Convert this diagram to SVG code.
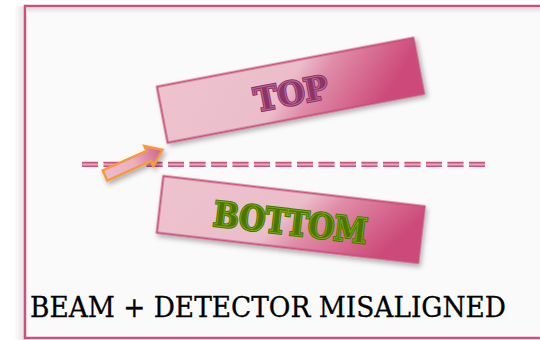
<svg xmlns="http://www.w3.org/2000/svg" width="540" height="340" viewBox="0 0 540 340">
  <style>
    .frame { fill: #fafafa; stroke: #c9527e; stroke-width: 2.5; }
    .det { stroke: #c8517b; stroke-width: 2; }
    .lbl { font-family: "DejaVu Serif", "Liberation Serif", serif; font-weight: bold; text-anchor: middle; }
    .beam { fill: none; stroke-dasharray: 16 5.5; }
    .caption { font-family: "DejaVu Serif", "Liberation Serif", serif; font-size: 27.5px; fill: #000; stroke: #000; stroke-width: 0.3; }
  </style>
  <defs>
    <linearGradient id="detGrad" x1="0" y1="0" x2="1" y2="0.2">
      <stop offset="0" stop-color="#edc3cf"/>
      <stop offset="0.55" stop-color="#ebbdcb"/>
      <stop offset="0.68" stop-color="#e08ca8"/>
      <stop offset="1" stop-color="#cd4a79"/>
    </linearGradient>
    <linearGradient id="arrowGrad" x1="0" y1="0" x2="1" y2="0">
      <stop offset="0" stop-color="#ecbccb"/>
      <stop offset="0.5" stop-color="#e9b0c3"/>
      <stop offset="1" stop-color="#d0608a"/>
    </linearGradient>
    <linearGradient id="leftShade" x1="0" y1="0" x2="1" y2="0">
      <stop offset="0" stop-color="#ffffff"/>
      <stop offset="1" stop-color="#e2e2e2"/>
    </linearGradient>
    <linearGradient id="topShade" x1="0" y1="0" x2="0" y2="1">
      <stop offset="0" stop-color="#dcdcdc"/>
      <stop offset="1" stop-color="#fafafa"/>
    </linearGradient>
    <filter id="shadow" x="-10%" y="-30%" width="120%" height="160%">
      <feDropShadow dx="2" dy="3" stdDeviation="2.5" flood-color="#000" flood-opacity="0.3"/>
    </filter>
  </defs>

  <rect x="0" y="0" width="540" height="340" fill="#ffffff"/>
  <rect x="14" y="6" width="11" height="334" fill="url(#leftShade)"/>
  <g id="frame">
    <rect class="frame" x="25" y="6" width="530" height="332"/>
    <rect x="26.5" y="7.5" width="520" height="6" fill="url(#topShade)"/>
  </g>

  <g id="connectors">
    <g id="beam-axis">
      <line class="beam" x1="82" y1="164.4" x2="486" y2="164.4" stroke="#e8a6bd" stroke-width="5"/>
      <line class="beam" x1="82" y1="162.6" x2="486" y2="162.6" stroke="#c9527e" stroke-width="1.6"/>
      <line class="beam" x1="82" y1="166.2" x2="486" y2="166.2" stroke="#c9527e" stroke-width="1.6"/>
    </g>
    <g id="beam-arrow" filter="url(#shadow)">
      <polygon transform="translate(105,175.5) rotate(-24)" points="0,-5.5 48,-5.5 48,-11 63,0 48,11 48,5.5 0,5.5" fill="url(#arrowGrad)" stroke="#f79a3e" stroke-width="2.5" stroke-linejoin="miter"/>
    </g>
  </g>

  <g id="top-detector" transform="translate(290.5,90.25) rotate(-10.8)">
    <rect class="det" x="-130.5" y="-28.5" width="261" height="57" fill="url(#detGrad)" filter="url(#shadow)"/>
    <text class="lbl" x="0" y="14.5" font-size="32" textLength="74" lengthAdjust="spacingAndGlyphs" fill="#8a3467" stroke="#8a3467" stroke-width="3">TOP</text>
    <text class="lbl" x="0" y="14.5" font-size="32" textLength="74" lengthAdjust="spacingAndGlyphs" fill="none" stroke="#c06a9a" stroke-width="0.9">TOP</text>
  </g>

  <g id="bottom-detector" transform="translate(290.75,219.5) rotate(6.6)">
    <rect class="det" x="-131.5" y="-28.5" width="263" height="57" fill="url(#detGrad)" filter="url(#shadow)"/>
    <text class="lbl" x="0" y="15" font-size="34" textLength="154" lengthAdjust="spacingAndGlyphs" fill="#4a7600" stroke="#4a7600" stroke-width="3">BOTTOM</text>
    <text class="lbl" x="0" y="15" font-size="34" textLength="154" lengthAdjust="spacingAndGlyphs" fill="none" stroke="#7fac10" stroke-width="0.9">BOTTOM</text>
  </g>

  <g id="caption">
    <text class="caption" x="30" y="317" textLength="476" lengthAdjust="spacingAndGlyphs">BEAM + DETECTOR MISALIGNED</text>
  </g>
</svg>
